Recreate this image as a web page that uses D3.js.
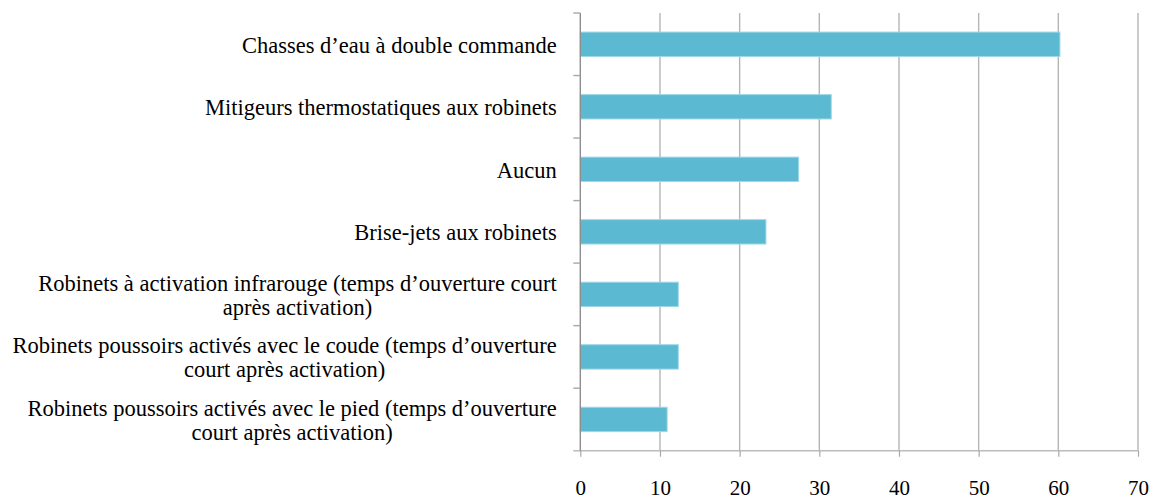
<!DOCTYPE html>
<html>
<head>
<meta charset="utf-8">
<script src="https://cdn.jsdelivr.net/npm/d3@7"></script>
<style>
  html, body { margin: 0; padding: 0; background: #fff; }
  svg text { font-family: "Liberation Serif", "DejaVu Serif", serif; fill: #000; }
</style>
</head>
<body>
<svg id="chart" width="1155" height="499"></svg>
<script>
// Equipment categories (line breaks mark the wrapped labels)
const categories = [
  "Chasses d’eau à double commande",
  "Mitigeurs thermostatiques aux robinets",
  "Aucun",
  "Brise-jets aux robinets",
  "Robinets à activation infrarouge (temps d’ouverture court\naprès activation)",
  "Robinets poussoirs activés avec le coude (temps d’ouverture\ncourt après activation)",
  "Robinets poussoirs activés avec le pied (temps d’ouverture\ncourt après activation)"
];
const values = [60.2, 31.5, 27.4, 23.3, 12.3, 12.3, 10.9];
const xTicks = [0, 10, 20, 30, 40, 50, 60, 70];

const svg = d3.select("#chart");
const plotLeft = 580.3, plotRight = 1138, plotTop = 13, plotBottom = 450.7;

const x = d3.scaleLinear().domain([0, 70]).range([plotLeft, plotRight]);
const y = d3.scaleBand().domain(categories).range([plotTop, plotBottom]).paddingInner(0.61).paddingOuter(0.305);
const yBands = d3.scaleBand().domain(categories).range([plotTop, plotBottom]);

// vertical gridlines
svg.append("g").selectAll("line").data(xTicks.slice(1)).join("line")
  .attr("x1", d => x(d)).attr("x2", d => x(d))
  .attr("y1", plotTop).attr("y2", plotBottom)
  .attr("stroke", "#b5b5b5").attr("stroke-width", 1.4);

// bars
svg.append("g").selectAll("rect").data(values).join("rect")
  .attr("x", x(0))
  .attr("y", (d, i) => y(categories[i]))
  .attr("width", d => x(d) - x(0))
  .attr("height", y.bandwidth())
  .attr("fill", "#5cb9d2")
  .attr("stroke", "#9fd8e6").attr("stroke-width", 1);

// bottom axis
const xAxis = svg.append("g").attr("transform", `translate(0,${plotBottom})`)
  .call(d3.axisBottom(x).tickValues(xTicks).tickSize(6).tickPadding(23));
xAxis.select(".domain").attr("stroke", "#bcbcbc").attr("stroke-width", 1.4)
  .attr("d", `M${plotLeft - 7},0H${plotRight}`);
xAxis.selectAll(".tick line").attr("stroke", "#a8a8a8").attr("stroke-width", 1.2);
xAxis.selectAll(".tick text")
  .style("font-family", "'Liberation Serif', serif").style("font-size", "21px").attr("fill", "#000");

// left axis with ticks at band boundaries
const yAxisG = svg.append("g");
yAxisG.append("line").attr("x1", plotLeft).attr("x2", plotLeft).attr("y1", plotTop).attr("y2", plotBottom)
  .attr("stroke", "#8e8e8e").attr("stroke-width", 1.4);
yAxisG.selectAll("line.tk").data(categories).join("line").attr("class", "tk")
  .attr("x1", plotLeft - 7).attr("x2", plotLeft)
  .attr("y1", d => yBands(d)).attr("y2", d => yBands(d))
  .attr("stroke", "#a8a8a8").attr("stroke-width", 1.4);

// category labels: block right-aligned to the axis, lines centred within the block
const lineH = 24;
const labelRight = plotLeft - 23.5;
const labels = svg.append("g").selectAll("g").data(categories).join("g");
labels.each(function(d) {
  const g = d3.select(this);
  const lines = d.split("\n");
  const cy = yBands(d) + yBands.bandwidth() / 2;
  const texts = g.selectAll("text").data(lines).join("text")
    .attr("font-size", 22.5)
    .attr("y", (l, i) => cy + (i - (lines.length - 1) / 2) * lineH + 8.3)
    .text(l => l);
  const widest = d3.max(texts.nodes(), n => n.getComputedTextLength());
  texts.attr("text-anchor", "middle").attr("x", labelRight - widest / 2);
});
</script>
</body>
</html>
